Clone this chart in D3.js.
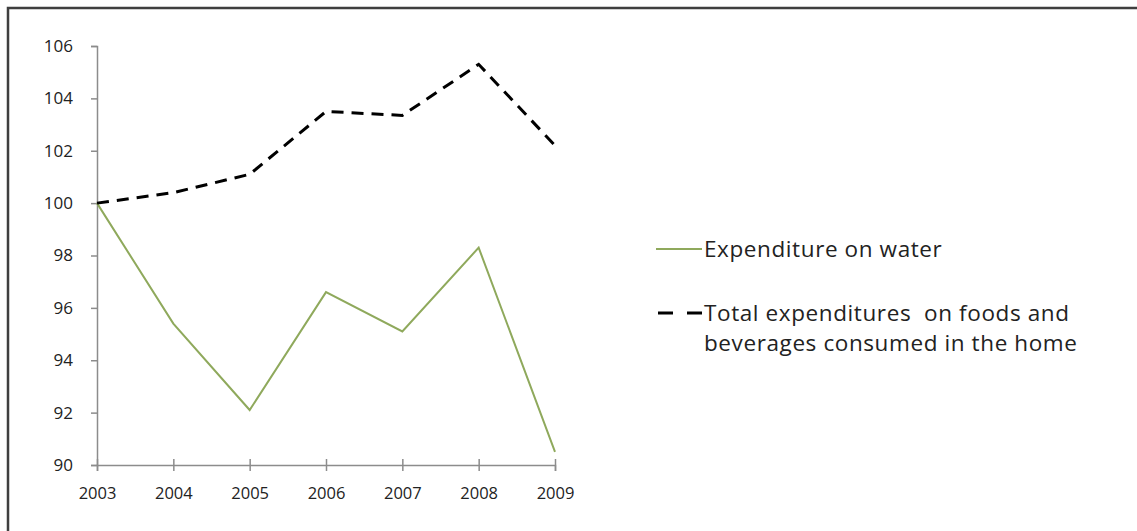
<!DOCTYPE html>
<html>
<head>
<meta charset="utf-8">
<style>
  body { margin: 0; background: #fff; }
  svg { display: block; }
  svg text { font-family: "Open Sans", Lato, sans-serif; }
</style>
</head>
<body>
<script src="https://cdn.jsdelivr.net/npm/d3@7"></script>
<script>
// data
var years = [2003, 2004, 2005, 2006, 2007, 2008, 2009];
var water = [100, 95.4, 92.1, 96.6, 95.1, 98.3, 90.5];
var foods = [100, 100.4, 101.1, 103.5, 103.35, 105.3, 102.2];
var yTicks = [90, 92, 94, 96, 98, 100, 102, 104, 106];
var legendLabels = ["Expenditure on water",
  ["Total expenditures  on foods and", "beverages consumed in the home"]];

var W = 1137, H = 531;
var svg = d3.select("body").append("svg")
  .attr("width", W).attr("height", H);

// frame (only top and left edges visible in the picture)
svg.append("path")
  .attr("d", "M8," + H + "V8H" + W)
  .attr("fill", "none")
  .attr("stroke", "#3f3f3f")
  .attr("stroke-width", 2.5);

var x = d3.scaleLinear().domain([2003, 2009]).range([97, 555]);
var y = d3.scaleLinear().domain([90, 106]).range([465, 46]);

var axisColor = "#8c8c8c";

// y axis
var gy = svg.append("g")
  .attr("transform", "translate(" + x(2003) + ",0)")
  .call(d3.axisLeft(y).tickValues(yTicks).tickSize(6).tickPadding(18));
gy.attr("font-family", null);
gy.select(".domain").attr("stroke", axisColor).attr("stroke-width", 1.5);
gy.selectAll(".tick line").attr("stroke", axisColor).attr("stroke-width", 1.5);
gy.selectAll(".tick text").attr("fill", "#222").style("font-size", "17px");

// x axis, ticks cross the line
var gx = svg.append("g")
  .attr("transform", "translate(0," + y(90) + ")")
  .call(d3.axisBottom(x).tickValues(years).tickFormat(d3.format("d"))
    .tickSize(6).tickPadding(16));
gx.attr("font-family", null);
gx.select(".domain").attr("stroke", axisColor).attr("stroke-width", 1.5);
gx.selectAll(".tick line").attr("stroke", axisColor).attr("stroke-width", 1.5)
  .attr("y1", -6);
gx.selectAll(".tick text").attr("fill", "#222").style("font-size", "16.5px");

var line = d3.line()
  .x(function(d, i) { return x(years[i]); })
  .y(function(d) { return y(d); });

svg.append("path")
  .datum(water)
  .attr("d", line)
  .attr("fill", "none")
  .attr("stroke", "#8fa95c")
  .attr("stroke-width", 2);

svg.append("path")
  .datum(foods)
  .attr("d", line)
  .attr("fill", "none")
  .attr("stroke", "#000")
  .attr("stroke-width", 3)
  .attr("stroke-dasharray", "12,8");

// legend
var lg = svg.append("g")
  .style("font-size", "22.5px")
  .style("letter-spacing", "0.6px");
lg.append("line")
  .attr("x1", 656).attr("x2", 702).attr("y1", 249).attr("y2", 249)
  .attr("stroke", "#8fa95c").attr("stroke-width", 2);
lg.append("text")
  .attr("x", 704).attr("y", 249).attr("dy", "0.35em")
  .attr("fill", "#222")
  .text(legendLabels[0]);

lg.append("line")
  .attr("x1", 658).attr("x2", 702).attr("y1", 313).attr("y2", 313)
  .attr("stroke", "#000").attr("stroke-width", 3)
  .attr("stroke-dasharray", "15,14");
var t2 = lg.append("text")
  .attr("x", 704).attr("y", 313).attr("dy", "0.35em")
  .attr("fill", "#222")
  .style("white-space", "pre");
t2.append("tspan").attr("x", 704).text(legendLabels[1][0]);
t2.append("tspan").attr("x", 704).attr("dy", "1.35em").text(legendLabels[1][1]);
</script>
</body>
</html>
